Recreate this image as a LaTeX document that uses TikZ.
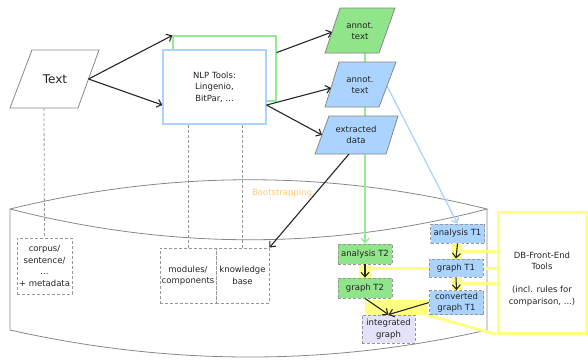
\documentclass[tikz,border=0pt]{standalone}
\usepackage{fontspec}
\setmainfont{DejaVu Sans}
\usetikzlibrary{arrows.meta,calc}
\definecolor{txt}{RGB}{35,35,35}
\definecolor{grnfill}{RGB}{144,228,138}
\definecolor{bluefill}{RGB}{170,212,255}
\definecolor{lavfill}{RGB}{226,226,248}
\definecolor{hlyellow}{RGB}{255,255,130}
\definecolor{grnline}{RGB}{150,234,150}
\definecolor{blueline}{RGB}{172,210,255}
\definecolor{edgegray}{RGB}{135,135,135}
\definecolor{dashgray}{RGB}{150,150,150}
\definecolor{boot}{RGB}{255,200,110}
\pgfdeclarelayer{bg}
\pgfsetlayers{bg,main}
\begin{document}
\begin{tikzpicture}[x=1pt,y=-1pt,
  font=\fontsize{8.5}{11.5}\selectfont,
  every node/.style={text=txt},
  arr/.style={draw=black!85, line width=1.1pt, -{Straight Barb[length=4.5pt,width=8pt]}},
  para/.style={draw=edgegray, line width=0.8pt},
  lbl/.style={align=center, inner sep=0pt},
  dbox/.style={draw=dashgray, line width=0.8pt, dash pattern=on 3pt off 2pt, align=center, inner sep=0pt},
  sbox/.style={dbox, minimum width=54pt},
  cyl/.style={draw=edgegray, line width=0.8pt},
  dline/.style={draw=dashgray, line width=0.8pt, dash pattern=on 3pt off 2pt},
  yl/.style={draw=hlyellow, line width=3pt},
  hl/.style={fill=hlyellow, inner sep=0pt},
  cl/.style={line width=1.3pt, -{Straight Barb[length=4.5pt,width=8pt]}},
]
\useasboundingbox (0,0) rectangle (588,359);

% ---------- Text parallelogram
\draw[para, fill=white] (32,50) -- (99,50) -- (78,108) -- (10,108) -- cycle;
\node[lbl, font=\fontsize{12}{14}\selectfont] (text) at (55,79) {Text};
\coordinate (textR) at (88.5,79);
\coordinate (textB) at (44,108);

% ---------- NLP tools
\node[draw=grnline, line width=1.2pt, minimum width=103pt, minimum height=65pt, inner sep=0pt] (nlpG) at (224.5,68.5) {};
\node[draw=blueline, fill=white, line width=1.2pt, minimum width=103pt, minimum height=74pt, inner sep=0pt, align=center] (nlp) at (214.5,87) {NLP Tools:\\Lingenio,\\BitPar, ...};

% ---------- annot./extracted parallelograms
\draw[para, fill=grnfill] (340,8) -- (395,8) -- (379,53) -- (325,53) -- cycle;
\node[lbl] (annotG) at (360,31) {annot.\\text};
\coordinate (aGin) at (332,32);
\coordinate (aGout) at (365,53);

\draw[para, fill=bluefill] (339,62) -- (396,62) -- (379,107) -- (325,107) -- cycle;
\node[lbl] (annotB) at (360,85) {annot.\\text};
\coordinate (aBin) at (331,88);
\coordinate (aBout) at (387,86);

\draw[para, fill=bluefill] (329,116) -- (398,116) -- (386,154) -- (315,154) -- cycle;
\node[lbl] (extr) at (356,135) {extracted\\data};
\coordinate (exIn) at (322,135);
\coordinate (exOut) at (349,154);

% ---------- boxes inside the database
\node[dbox, minimum width=55pt, minimum height=56pt] (corpus) at (44.5,266) {corpus/\\sentence/\\...\\+ metadata};
\node[dbox, minimum width=56pt, minimum height=55pt] (modules) at (188,275.5) {modules/\\components};
\node[dbox, minimum width=53pt, minimum height=55pt] (kb) at (242.5,275.5) {knowledge\\base};

\node[lbl, text=boot] (boot) at (282,193) {Bootstrapping};

\node[sbox, fill=bluefill, minimum height=19pt] (anT1) at (457.5,233.5) {analysis T1};
\node[sbox, fill=bluefill, minimum height=18pt] (grT1) at (456,268) {graph T1};
\node[sbox, fill=bluefill, minimum height=24pt] (cvT1) at (456.5,302.5) {converted\\graph T1};
\node[sbox, fill=grnfill, minimum height=20pt] (anT2) at (365,254) {analysis T2};
\node[sbox, fill=grnfill, minimum height=20pt] (grT2) at (365,288) {graph T2};
\node[sbox, fill=lavfill, minimum width=53pt, minimum height=28pt] (integ) at (388.5,329) {integrated\\graph};

% ---------- DB front end tools
\node[draw=hlyellow, line width=3pt, minimum width=88pt, minimum height=121pt, inner sep=0pt] (db) at (542,272.5) {};
\node[lbl] (dbt) at (542,279) {DB-Front-End\\Tools\\[11.5pt](incl. rules for\\comparison, ...)};

% ---------- highlights
\node[hl, minimum width=13pt, minimum height=13pt] (hlA) at (365.5,271.5) {};
\node[hl, minimum width=10pt, minimum height=16pt] (hlB) at (456.5,251) {};
\node[hl, minimum width=10pt, minimum height=13pt] (hlC) at (456.5,283.5) {};
\node[hl, minimum width=63pt, minimum height=15pt] (hlD) at (396.5,307.5) {};

\begin{pgfonlayer}{bg}
  % database cylinder
  \draw[cyl] (10,209) .. controls (170,170) and (330,170) .. (487,209)
            .. controls (330,250) and (170,250) .. (10,209) -- (10,330)
            .. controls (170,366) and (330,366) .. (487,330) -- (487,209);
  % dashed links
  \draw[dline] (textB) -- (corpus.north);
  \draw[dline] (modules.north |- nlp.south) -- (modules.north);
  \draw[dline] (kb.north |- nlp.south) -- (kb.north);
  % coloured links
  \draw[cl, draw=grnline] (aGout) -- (anT2.north);
  \draw[cl, draw=blueline] (aBout) -- (anT1.north);
  % yellow links
  \draw[yl] (hlB.east) -- (hlB.east -| db.west);
  \draw[yl] (grT1.east) -- (grT1.east -| db.west);
  \draw[yl] (hlC.east) -- (hlC.east -| db.west);
  \draw[yl] (grT1.west) -- (grT1.west -| hlA.east);
  \draw[yl] (hlD.south east) -- (db.south west);
\end{pgfonlayer}

% ---------- arrows
\draw[arr] (textR) -- (nlpG.north west);
\draw[arr] (textR) -- ($(nlp.south west)!0.26!(nlp.north west)$);
\draw[arr] ($(nlpG.north east)!0.26!(nlpG.south east)$) -- (aGin);
\draw[arr] ($(nlp.north east)!0.74!(nlp.south east)$) -- (aBin);
\draw[arr] ($(nlp.north east)!0.74!(nlp.south east)$) -- (exIn);
\draw[arr] (exOut) -- (kb.north east);
\draw[arr] (anT2.south) -- (grT2.north);
\draw[arr] (anT1.south) -- (grT1.north);
\draw[arr] (grT1.south) -- (cvT1.north);
\draw[arr] (grT2.south) -- (integ.north);
\draw[arr] (cvT1.west) -- (integ.north);
\end{tikzpicture}
\end{document}
